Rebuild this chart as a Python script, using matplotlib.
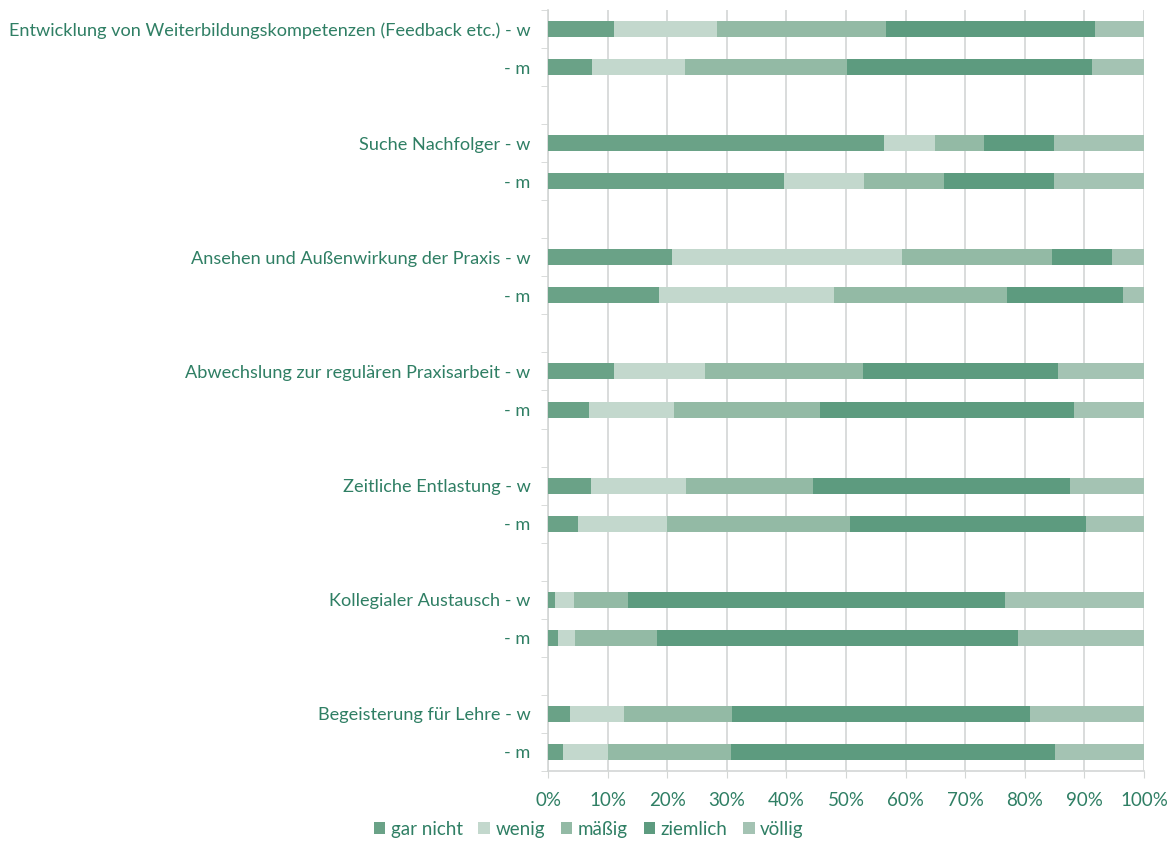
import matplotlib
matplotlib.use("Agg")
from matplotlib import pyplot as plt
from matplotlib.patches import Patch
import numpy as np

# Kategorien von oben nach unten (w/m pro Item)
items = [
    "Entwicklung von Weiterbildungskompetenzen (Feedback etc.)",
    "Suche Nachfolger",
    "Ansehen und Außenwirkung der Praxis",
    "Abwechslung zur regulären Praxisarbeit",
    "Zeitliche Entlastung",
    "Kollegialer Austausch",
    "Begeisterung für Lehre",
]
levels = ["gar nicht", "wenig", "mäßig", "ziemlich", "völlig"]

# Anteile in % je Stufe, Reihenfolge: für jedes Item erst w, dann m
gar_nicht = [11.1, 7.4, 56.3, 39.6, 20.8, 18.7, 11.0, 6.8, 7.2, 5.0, 1.1, 1.7, 3.7, 2.5]
wenig     = [17.2, 15.6, 8.7, 13.5, 38.6, 29.3, 15.3, 14.4, 15.9, 14.9, 3.3, 2.9, 9.0, 7.6]
maessig   = [28.4, 27.1, 8.1, 13.3, 25.2, 29.0, 26.5, 24.5, 21.4, 30.7, 9.0, 13.7, 18.2, 20.6]
ziemlich  = [35.0, 41.1, 11.8, 18.5, 10.0, 19.4, 32.7, 42.5, 43.0, 39.7, 63.2, 60.5, 50.0, 54.3]
voellig   = [8.3, 8.8, 15.1, 15.1, 5.4, 3.6, 14.5, 11.8, 12.5, 9.7, 23.4, 21.2, 19.1, 15.0]

colors = ["#6aa287", "#c3d8cd", "#93baa5", "#5d9b7f", "#a4c3b3"]
text_color = "#2f7f64"
grid_color = "#d3d6d5"

plt.rcParams["font.family"] = ["Lato", "DejaVu Sans"]

series = [gar_nicht, wenig, maessig, ziemlich, voellig]

# Positionen: pro Item zwei Balken plus eine Leerzeile
positions = []
labels = []
for i, item in enumerate(items):
    positions.append(i * 3)
    labels.append(item + " - w")
    positions.append(i * 3 + 1)
    labels.append("- m")
positions = np.array(positions)
n_slots = len(items) * 3 - 1

fig = plt.figure(figsize=(11.68, 8.46), dpi=100)
ax = fig.add_axes([548 / 1168, 1 - 771 / 846, 596 / 1168, 761 / 846])

left = np.zeros(len(positions))
for vals, color, name in zip(series, colors, levels):
    vals = np.array(vals)
    ax.barh(positions, vals, left=left, height=0.42, color=color, label=name, zorder=3)
    left += vals

ax.set_xlim(0, 100)
ax.set_ylim(n_slots - 0.5, -0.5)
ax.set_xticks(np.arange(0, 101, 10))
ax.set_xticklabels([f"{v}%" for v in range(0, 101, 10)])
ax.set_yticks(positions)
ax.set_yticklabels(labels)
ax.set_yticks(np.arange(-0.5, n_slots, 1), minor=True)

ax.tick_params(axis="y", which="major", length=0, pad=12.5, labelsize=13.1, labelcolor=text_color)
ax.tick_params(axis="y", which="minor", length=5, color=grid_color, direction="out")
ax.tick_params(axis="x", which="major", length=5, color=grid_color, pad=10, labelsize=13.5, labelcolor=text_color)

ax.grid(axis="x", color=grid_color, linewidth=1.2, zorder=0)
for side in ["top", "right"]:
    ax.spines[side].set_visible(False)
for side in ["left", "bottom"]:
    ax.spines[side].set_color(grid_color)
    ax.spines[side].set_linewidth(1.2)

handles = [Patch(facecolor=c, label=l) for c, l in zip(colors, levels)]
fig.legend(handles=handles, loc="center", bbox_to_anchor=(0.504, 1 - 829 / 846), ncol=5,
           frameon=False, fontsize=13.5, labelcolor=text_color, handlelength=0.6,
           handleheight=0.6, handletextpad=0.3, columnspacing=0.85)

fig.savefig("out.png", dpi=100)
